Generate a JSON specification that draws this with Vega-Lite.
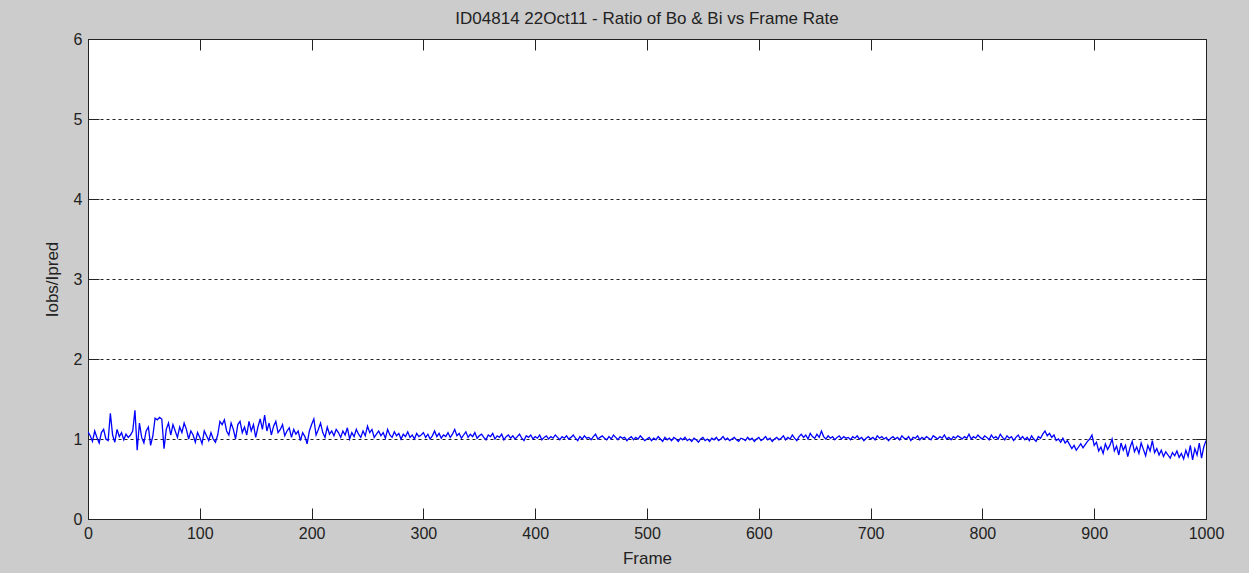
{
"$schema": "https://vega.github.io/schema/vega-lite/v6.json",
"autosize": "none",
"width": 1118,
"height": 480,
"padding": {"left": 88, "top": 39, "right": 43, "bottom": 54},
"background": "#cccccc",
"title": {"text": "ID04814 22Oct11 - Ratio of Bo & Bi vs Frame Rate", "fontSize": 17, "fontWeight": "normal", "font": "Liberation Sans", "color": "#222222", "offset": 3, "anchor": "middle"},
"config": {"view": {"fill": "white", "stroke": "#222222", "strokeWidth": 1}},
"data": {"values": [
{"f":0,"r":1.09},{"f":2,"r":1.04},{"f":4,"r":0.97},{"f":6,"r":1.10},{"f":8,"r":1.02},{"f":10,"r":0.95},{"f":12,"r":1.08},{"f":14,"r":1.12},{"f":16,"r":1.00},{"f":18,"r":0.98},
{"f":20,"r":1.32},{"f":22,"r":1.05},{"f":24,"r":0.96},{"f":26,"r":1.12},{"f":28,"r":1.03},{"f":30,"r":1.08},{"f":32,"r":0.99},{"f":34,"r":1.06},{"f":36,"r":1.02},{"f":38,"r":1.05},
{"f":40,"r":1.10},{"f":42,"r":1.36},{"f":44,"r":0.86},{"f":46,"r":1.20},{"f":48,"r":1.02},{"f":50,"r":0.95},{"f":52,"r":1.10},{"f":54,"r":1.15},{"f":56,"r":0.92},{"f":58,"r":1.04},
{"f":60,"r":1.26},{"f":62,"r":1.24},{"f":64,"r":1.27},{"f":66,"r":1.25},{"f":68,"r":0.88},{"f":70,"r":1.12},{"f":72,"r":1.20},{"f":74,"r":1.05},{"f":76,"r":1.18},{"f":78,"r":1.10},
{"f":80,"r":1.02},{"f":82,"r":1.15},{"f":84,"r":1.08},{"f":86,"r":1.20},{"f":88,"r":1.12},{"f":90,"r":1.00},{"f":92,"r":1.10},{"f":94,"r":1.05},{"f":96,"r":0.96},{"f":98,"r":1.08},
{"f":100,"r":1.02},{"f":102,"r":0.94},{"f":104,"r":1.10},{"f":106,"r":1.04},{"f":108,"r":0.98},{"f":110,"r":1.08},{"f":112,"r":1.00},{"f":114,"r":0.96},{"f":116,"r":1.05},{"f":118,"r":1.22},
{"f":120,"r":1.18},{"f":122,"r":1.24},{"f":124,"r":1.10},{"f":126,"r":1.05},{"f":128,"r":1.20},{"f":130,"r":1.12},{"f":132,"r":1.00},{"f":134,"r":1.18},{"f":136,"r":1.22},{"f":138,"r":1.08},
{"f":140,"r":1.15},{"f":142,"r":1.05},{"f":144,"r":1.22},{"f":146,"r":1.10},{"f":148,"r":1.18},{"f":150,"r":1.02},{"f":152,"r":1.15},{"f":154,"r":1.25},{"f":156,"r":1.12},{"f":158,"r":1.30},
{"f":160,"r":1.10},{"f":162,"r":1.20},{"f":164,"r":1.05},{"f":166,"r":1.16},{"f":168,"r":1.22},{"f":170,"r":1.08},{"f":172,"r":1.12},{"f":174,"r":1.18},{"f":176,"r":1.04},{"f":178,"r":1.10},
{"f":180,"r":1.14},{"f":182,"r":1.02},{"f":184,"r":1.12},{"f":186,"r":1.06},{"f":188,"r":1.10},{"f":190,"r":0.98},{"f":192,"r":1.08},{"f":194,"r":1.03},{"f":196,"r":0.94},{"f":198,"r":1.10},
{"f":200,"r":1.18},{"f":202,"r":1.25},{"f":204,"r":1.05},{"f":206,"r":1.12},{"f":208,"r":1.20},{"f":210,"r":1.08},{"f":212,"r":1.02},{"f":214,"r":1.15},{"f":216,"r":1.06},{"f":218,"r":1.10},
{"f":220,"r":1.04},{"f":222,"r":1.12},{"f":224,"r":1.08},{"f":226,"r":1.02},{"f":228,"r":1.10},{"f":230,"r":1.05},{"f":232,"r":1.14},{"f":234,"r":1.00},{"f":236,"r":1.08},{"f":238,"r":1.03},
{"f":240,"r":1.12},{"f":242,"r":1.06},{"f":244,"r":1.02},{"f":246,"r":1.10},{"f":248,"r":1.04},{"f":250,"r":1.16},{"f":252,"r":1.08},{"f":254,"r":1.12},{"f":256,"r":1.02},{"f":258,"r":1.06},
{"f":260,"r":1.10},{"f":262,"r":1.04},{"f":264,"r":1.08},{"f":266,"r":1.01},{"f":268,"r":1.12},{"f":270,"r":1.05},{"f":272,"r":1.02},{"f":274,"r":1.09},{"f":276,"r":1.04},{"f":278,"r":1.07},
{"f":280,"r":1.00},{"f":282,"r":1.06},{"f":284,"r":1.03},{"f":286,"r":1.09},{"f":288,"r":1.02},{"f":290,"r":1.05},{"f":292,"r":1.00},{"f":294,"r":1.07},{"f":296,"r":1.03},{"f":298,"r":1.05},
{"f":300,"r":1.08},{"f":302,"r":1.02},{"f":304,"r":1.06},{"f":306,"r":1.00},{"f":308,"r":1.04},{"f":310,"r":1.10},{"f":312,"r":1.03},{"f":314,"r":1.07},{"f":316,"r":1.01},{"f":318,"r":1.05},
{"f":320,"r":1.03},{"f":322,"r":1.08},{"f":324,"r":1.02},{"f":326,"r":1.06},{"f":328,"r":1.12},{"f":330,"r":1.04},{"f":332,"r":1.07},{"f":334,"r":1.01},{"f":336,"r":1.05},{"f":338,"r":1.09},
{"f":340,"r":1.02},{"f":342,"r":1.06},{"f":344,"r":1.03},{"f":346,"r":1.08},{"f":348,"r":1.01},{"f":350,"r":1.04},{"f":352,"r":1.06},{"f":354,"r":1.02},{"f":356,"r":0.99},{"f":358,"r":1.05},
{"f":360,"r":1.03},{"f":362,"r":1.07},{"f":364,"r":1.00},{"f":366,"r":1.04},{"f":368,"r":1.02},{"f":370,"r":1.06},{"f":372,"r":0.99},{"f":374,"r":1.03},{"f":376,"r":1.05},{"f":378,"r":1.01},
{"f":380,"r":1.04},{"f":382,"r":1.00},{"f":384,"r":1.03},{"f":386,"r":1.06},{"f":388,"r":1.01},{"f":390,"r":0.98},{"f":392,"r":1.04},{"f":394,"r":1.02},{"f":396,"r":1.05},{"f":398,"r":1.00},
{"f":400,"r":1.03},{"f":402,"r":1.01},{"f":404,"r":1.05},{"f":406,"r":0.99},{"f":408,"r":1.02},{"f":410,"r":1.04},{"f":412,"r":1.00},{"f":414,"r":1.03},{"f":416,"r":1.01},{"f":418,"r":1.05},
{"f":420,"r":1.02},{"f":422,"r":0.99},{"f":424,"r":1.03},{"f":426,"r":1.01},{"f":428,"r":1.04},{"f":430,"r":1.00},{"f":432,"r":1.02},{"f":434,"r":1.05},{"f":436,"r":1.01},{"f":438,"r":0.98},
{"f":440,"r":1.03},{"f":442,"r":1.00},{"f":444,"r":1.04},{"f":446,"r":1.01},{"f":448,"r":1.02},{"f":450,"r":0.99},{"f":452,"r":1.03},{"f":454,"r":1.06},{"f":456,"r":1.00},{"f":458,"r":1.02},
{"f":460,"r":1.04},{"f":462,"r":1.01},{"f":464,"r":0.99},{"f":466,"r":1.03},{"f":468,"r":1.00},{"f":470,"r":1.05},{"f":472,"r":1.02},{"f":474,"r":0.99},{"f":476,"r":1.03},{"f":478,"r":1.01},
{"f":480,"r":1.02},{"f":482,"r":0.98},{"f":484,"r":1.01},{"f":486,"r":1.03},{"f":488,"r":0.99},{"f":490,"r":1.02},{"f":492,"r":1.00},{"f":494,"r":1.04},{"f":496,"r":1.01},{"f":498,"r":0.98},
{"f":500,"r":1.00},{"f":502,"r":1.02},{"f":504,"r":0.98},{"f":506,"r":1.01},{"f":508,"r":0.99},{"f":510,"r":1.03},{"f":512,"r":1.00},{"f":514,"r":0.97},{"f":516,"r":1.02},{"f":518,"r":0.99},
{"f":520,"r":1.01},{"f":522,"r":0.98},{"f":524,"r":1.02},{"f":526,"r":1.00},{"f":528,"r":0.97},{"f":530,"r":1.01},{"f":532,"r":0.99},{"f":534,"r":1.02},{"f":536,"r":0.98},{"f":538,"r":1.00},
{"f":540,"r":0.97},{"f":542,"r":1.01},{"f":544,"r":0.99},{"f":546,"r":0.96},{"f":548,"r":1.00},{"f":550,"r":1.02},{"f":552,"r":0.98},{"f":554,"r":1.00},{"f":556,"r":0.97},{"f":558,"r":1.01},
{"f":560,"r":0.99},{"f":562,"r":1.02},{"f":564,"r":0.98},{"f":566,"r":1.00},{"f":568,"r":1.03},{"f":570,"r":0.99},{"f":572,"r":1.01},{"f":574,"r":0.98},{"f":576,"r":1.00},{"f":578,"r":1.02},
{"f":580,"r":0.99},{"f":582,"r":0.97},{"f":584,"r":1.01},{"f":586,"r":1.00},{"f":588,"r":0.98},{"f":590,"r":1.02},{"f":592,"r":0.99},{"f":594,"r":1.01},{"f":596,"r":0.97},{"f":598,"r":1.00},
{"f":600,"r":1.02},{"f":602,"r":0.98},{"f":604,"r":1.00},{"f":606,"r":1.03},{"f":608,"r":0.99},{"f":610,"r":1.01},{"f":612,"r":0.97},{"f":614,"r":1.00},{"f":616,"r":1.02},{"f":618,"r":0.99},
{"f":620,"r":1.01},{"f":622,"r":1.04},{"f":624,"r":0.99},{"f":626,"r":1.02},{"f":628,"r":1.00},{"f":630,"r":1.05},{"f":632,"r":1.01},{"f":634,"r":0.98},{"f":636,"r":1.03},{"f":638,"r":1.06},
{"f":640,"r":1.02},{"f":642,"r":1.05},{"f":644,"r":1.00},{"f":646,"r":1.07},{"f":648,"r":1.03},{"f":650,"r":1.01},{"f":652,"r":1.06},{"f":654,"r":1.02},{"f":656,"r":1.10},{"f":658,"r":1.03},
{"f":660,"r":1.00},{"f":662,"r":1.04},{"f":664,"r":1.01},{"f":666,"r":1.03},{"f":668,"r":0.99},{"f":670,"r":1.02},{"f":672,"r":1.04},{"f":674,"r":1.00},{"f":676,"r":1.03},{"f":678,"r":1.01},
{"f":680,"r":1.02},{"f":682,"r":0.99},{"f":684,"r":1.03},{"f":686,"r":1.01},{"f":688,"r":1.04},{"f":690,"r":1.00},{"f":692,"r":1.02},{"f":694,"r":0.98},{"f":696,"r":1.01},{"f":698,"r":1.03},
{"f":700,"r":1.00},{"f":702,"r":1.02},{"f":704,"r":0.99},{"f":706,"r":1.04},{"f":708,"r":1.01},{"f":710,"r":1.03},{"f":712,"r":1.00},{"f":714,"r":1.02},{"f":716,"r":0.98},{"f":718,"r":1.01},
{"f":720,"r":1.03},{"f":722,"r":1.00},{"f":724,"r":1.02},{"f":726,"r":0.99},{"f":728,"r":1.04},{"f":730,"r":1.01},{"f":732,"r":1.00},{"f":734,"r":1.03},{"f":736,"r":0.98},{"f":738,"r":1.02},
{"f":740,"r":1.01},{"f":742,"r":1.04},{"f":744,"r":0.99},{"f":746,"r":1.02},{"f":748,"r":1.00},{"f":750,"r":1.03},{"f":752,"r":1.01},{"f":754,"r":0.99},{"f":756,"r":1.04},{"f":758,"r":1.02},
{"f":760,"r":1.00},{"f":762,"r":1.03},{"f":764,"r":1.01},{"f":766,"r":1.05},{"f":768,"r":1.00},{"f":770,"r":1.02},{"f":772,"r":0.99},{"f":774,"r":1.03},{"f":776,"r":1.01},{"f":778,"r":1.04},
{"f":780,"r":1.02},{"f":782,"r":1.00},{"f":784,"r":1.03},{"f":786,"r":1.01},{"f":788,"r":1.06},{"f":790,"r":1.00},{"f":792,"r":1.03},{"f":794,"r":1.01},{"f":796,"r":1.05},{"f":798,"r":1.02},
{"f":800,"r":1.00},{"f":802,"r":1.04},{"f":804,"r":1.02},{"f":806,"r":0.99},{"f":808,"r":1.05},{"f":810,"r":1.01},{"f":812,"r":1.03},{"f":814,"r":1.00},{"f":816,"r":1.06},{"f":818,"r":1.02},
{"f":820,"r":0.99},{"f":822,"r":1.04},{"f":824,"r":1.01},{"f":826,"r":1.03},{"f":828,"r":0.98},{"f":830,"r":1.02},{"f":832,"r":1.05},{"f":834,"r":1.00},{"f":836,"r":1.03},{"f":838,"r":0.99},
{"f":840,"r":1.02},{"f":842,"r":0.98},{"f":844,"r":1.04},{"f":846,"r":1.00},{"f":848,"r":0.97},{"f":850,"r":1.03},{"f":852,"r":1.01},{"f":854,"r":1.06},{"f":856,"r":1.10},{"f":858,"r":1.04},
{"f":860,"r":1.07},{"f":862,"r":1.02},{"f":864,"r":1.05},{"f":866,"r":0.98},{"f":868,"r":1.00},{"f":870,"r":0.96},{"f":872,"r":1.01},{"f":874,"r":0.95},{"f":876,"r":0.98},{"f":878,"r":0.93},
{"f":880,"r":0.88},{"f":882,"r":0.92},{"f":884,"r":0.86},{"f":886,"r":0.90},{"f":888,"r":0.94},{"f":890,"r":0.89},{"f":892,"r":0.93},{"f":894,"r":0.97},{"f":896,"r":1.00},{"f":898,"r":1.05},
{"f":900,"r":0.92},{"f":902,"r":0.96},{"f":904,"r":0.85},{"f":906,"r":0.90},{"f":908,"r":0.82},{"f":910,"r":0.94},{"f":912,"r":0.87},{"f":914,"r":0.92},{"f":916,"r":1.00},{"f":918,"r":0.85},
{"f":920,"r":0.91},{"f":922,"r":0.80},{"f":924,"r":0.95},{"f":926,"r":0.86},{"f":928,"r":0.92},{"f":930,"r":0.78},{"f":932,"r":0.89},{"f":934,"r":0.97},{"f":936,"r":0.84},{"f":938,"r":0.90},
{"f":940,"r":0.82},{"f":942,"r":0.95},{"f":944,"r":0.87},{"f":946,"r":0.79},{"f":948,"r":0.92},{"f":950,"r":0.85},{"f":952,"r":0.98},{"f":954,"r":0.83},{"f":956,"r":0.88},{"f":958,"r":0.80},
{"f":960,"r":0.86},{"f":962,"r":0.78},{"f":964,"r":0.84},{"f":966,"r":0.80},{"f":968,"r":0.76},{"f":970,"r":0.83},{"f":972,"r":0.79},{"f":974,"r":0.85},{"f":976,"r":0.77},{"f":978,"r":0.82},
{"f":980,"r":0.75},{"f":982,"r":0.86},{"f":984,"r":0.78},{"f":986,"r":0.92},{"f":988,"r":0.74},{"f":990,"r":0.88},{"f":992,"r":0.80},{"f":994,"r":0.95},{"f":996,"r":0.76},{"f":998,"r":0.90},
{"f":1000,"r":0.98}
]},
"layer": [
{
"mark": {"type": "line", "color": "#0000ff", "strokeWidth": 1.3, "clip": true},
"encoding": {
"x": {"field": "f", "type": "quantitative", "scale": {"domain": [0, 1000], "nice": false, "zero": false},
"axis": {"orient": "bottom", "values": [0,100,200,300,400,500,600,700,800,900,1000], "format": "d", "title": "Frame", "grid": false, "domain": false, "tickSize": -11, "tickColor": "#222222", "tickWidth": 1, "labelPadding": 17, "labelFontSize": 16, "labelFont": "Liberation Sans", "labelColor": "#222222", "labelFlush": false, "titleFontSize": 17, "titleFont": "Liberation Sans", "titleFontWeight": "normal", "titleColor": "#222222", "titlePadding": 9}},
"y": {"field": "r", "type": "quantitative", "scale": {"domain": [0, 6], "nice": false, "zero": false},
"axis": {"orient": "left", "values": [0,1,2,3,4,5,6], "format": "d", "title": "Iobs/Ipred", "grid": true, "gridDash": [3,3], "gridColor": "#222222", "gridOpacity": 1, "gridWidth": 1, "domain": false, "tickSize": -11, "tickColor": "#222222", "labelPadding": 17, "labelFontSize": 16, "labelFont": "Liberation Sans", "labelColor": "#222222", "labelFlush": false, "titleFontSize": 17, "titleFont": "Liberation Sans", "titleFontWeight": "normal", "titleColor": "#222222", "titlePadding": 12}}
}
},
{
"mark": {"type": "line", "strokeOpacity": 0},
"encoding": {
"x": {"field": "f", "type": "quantitative", "axis": {"orient": "top", "values": [0,100,200,300,400,500,600,700,800,900,1000], "labels": false, "title": null, "grid": false, "domain": false, "tickSize": -11, "tickColor": "#222222"}},
"y": {"field": "r", "type": "quantitative", "axis": {"orient": "right", "values": [0,1,2,3,4,5,6], "labels": false, "title": null, "grid": false, "domain": false, "tickSize": -11, "tickColor": "#222222"}}
}
}
],
"resolve": {"axis": {"x": "independent", "y": "independent"}}
}
